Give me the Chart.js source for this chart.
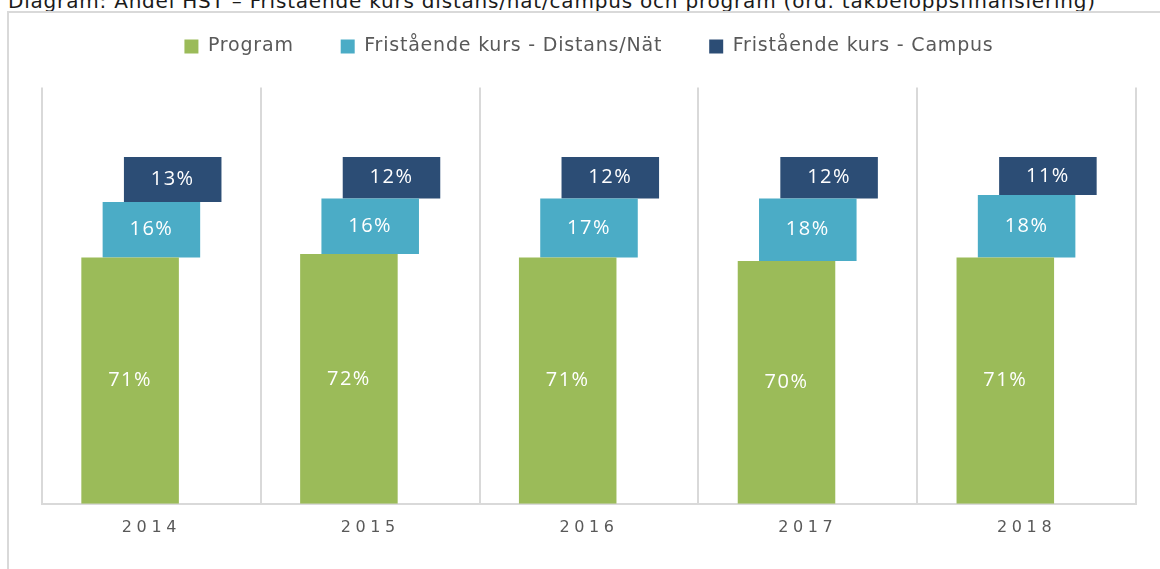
<!DOCTYPE html>
<html>
<head>
<meta charset="utf-8">
<script src="https://cdn.jsdelivr.net/npm/chart.js@4/dist/chart.umd.min.js"></script>
<style>
  html, body { margin: 0; padding: 0; background: #fff; overflow: hidden; }
  body { width: 1160px; height: 569px; position: relative; }
  #title { position: absolute; left: 8px; top: -9px; font: 20px "DejaVu Sans", sans-serif; line-height: 20px; color: #1a1a1a; white-space: nowrap; letter-spacing: 0.8px; }
  #frame { position: absolute; left: 7px; top: 11px; width: 1200px; height: 700px; border: 2px solid #d9d9d9; }
  #wrap { position: absolute; left: 0; top: -10px; width: 1160px; height: 580px; }
</style>
</head>
<body>
<div id="title">Diagram: Andel HST – Fristående kurs distans/nät/campus och program (ord. takbeloppsfinansiering)</div>
<div id="frame"></div>
<div id="wrap"><canvas id="chart"></canvas></div>
<script>
const years = ["2014", "2015", "2016", "2017", "2018"];
const program = [71, 72, 71, 70, 71];
const distans = [16, 16, 17, 18, 18];
const campus = [13, 12, 12, 12, 11];

// each part floats on top of the previous ones
const programBars = program.map(v => [0, v]);
const distansBars = distans.map((v, i) => [program[i], program[i] + v]);
const campusBars = campus.map((v, i) => [program[i] + distans[i], program[i] + distans[i] + v]);

const labelPlugin = {
    id: "barLabels",
    beforeUpdate: chart => { chart.ctx.letterSpacing = "0.8px"; },
    beforeDraw: chart => {
        chart.ctx.letterSpacing = "0.8px";
        const s = chart.scales.x;
        if (s && !s._spaced) {
            const f = s.drawLabels;
            s.drawLabels = function(area) {
                const c = this.ctx;
                const old = c.letterSpacing;
                c.letterSpacing = "4.6px";
                f.call(this, area);
                c.letterSpacing = old;
            };
            s._spaced = true;
        }
    },
    afterDatasetsDraw: chart => {
        const ctx = chart.ctx;
        ctx.save();
        ctx.letterSpacing = "1.5px";
        ctx.font = "20px 'Open Sans'";
        ctx.fillStyle = "#fff";
        ctx.textAlign = "center";
        ctx.textBaseline = "middle";
        chart.data.datasets.forEach((ds, di) => {
            chart.getDatasetMeta(di).data.forEach((bar, i) => {
                const p = bar.getProps(["x", "y", "base"], true);
                ctx.fillText(ds.pct[i] + "%", p.x, (p.y + p.base) / 2);
            });
        });
        ctx.restore();
    }
};

new Chart(document.getElementById("chart"), {
    type: "bar",
    data: {
        labels: years,
        datasets: [
            { label: "Program", data: programBars, pct: program, backgroundColor: "#9bbb59", xAxisID: "x" },
            { label: "Fristående kurs - Distans/Nät", data: distansBars, pct: distans, backgroundColor: "#4bacc6", xAxisID: "x" },
            { label: "Fristående kurs - Campus", data: campusBars, pct: campus, backgroundColor: "#2c4d75", xAxisID: "x" }
        ]
    },
    options: {
        responsive: true,
        maintainAspectRatio: false,
        animation: false,
        categoryPercentage: 0.292,
        barPercentage: 4.58,
        layout: { padding: { left: 42, right: 24, top: 0, bottom: 19 } },
        plugins: {
            tooltip: { enabled: false },
            legend: {
                position: "top",
                labels: {
                    boxWidth: 14,
                    boxHeight: 14,
                    padding: 47,
                    color: "#595959",
                    font: { family: "DejaVu Sans", size: 19 }
                }
            }
        },
        scales: {
            x: {
                grid: { color: "#d9d9d9", lineWidth: 2, drawTicks: false },
                border: { color: "#d9d9d9", width: 2 },
                ticks: { color: "#595959", padding: 14, font: { family: "DejaVu Sans", size: 16 } }
            },
            xTop: {
                type: "category",
                position: "top",
                grid: { display: false },
                border: { display: false },
                ticks: { display: false },
                afterFit: s => { s.height = 21.5; }
            },
            y: { display: false, min: 0, max: 120 }
        }
    },
    plugins: [labelPlugin]
});
</script>
</body>
</html>
